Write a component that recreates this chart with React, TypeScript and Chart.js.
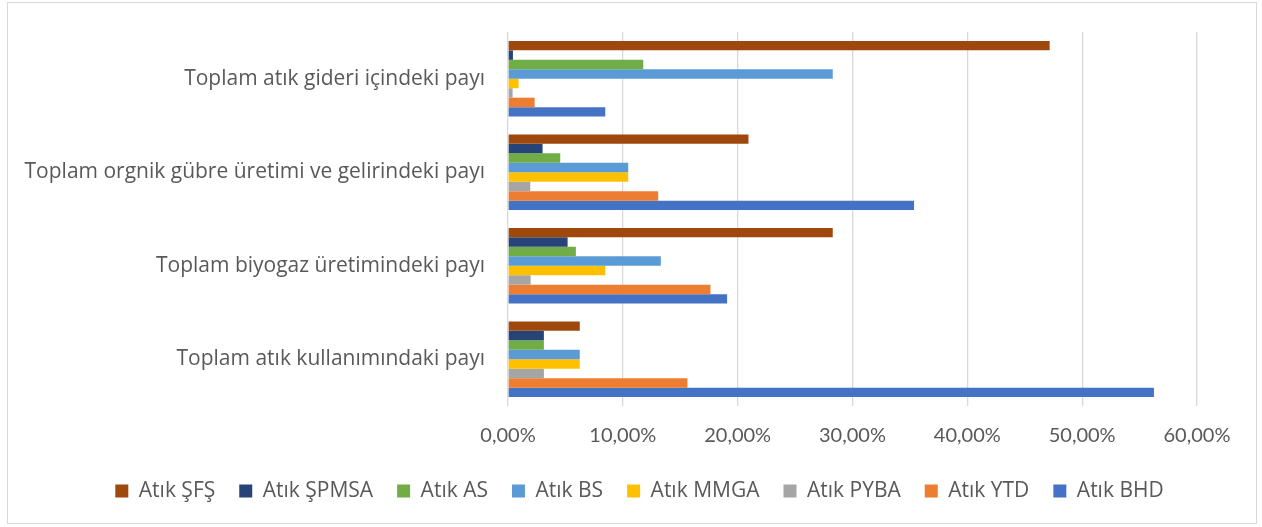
import React, { useEffect, useRef } from "react";
import { Chart, registerables } from "chart.js";

Chart.register(...registerables);

const categories = [
  "Toplam atık gideri içindeki payı",
  "Toplam orgnik gübre üretimi ve gelirindeki payı",
  "Toplam biyogaz üretimindeki payı",
  "Toplam atık kullanımındaki payı",
];

const seriesNames = [
  "Atık ŞFŞ",
  "Atık ŞPMSA",
  "Atık AS",
  "Atık BS",
  "Atık MMGA",
  "Atık PYBA",
  "Atık YTD",
  "Atık BHD",
];

const seriesColors = [
  "#9E480E",
  "#264478",
  "#70AD47",
  "#5B9BD5",
  "#FFC000",
  "#A5A5A5",
  "#ED7D31",
  "#4472C4",
];

const atikSFS = [47.17, 20.94, 28.28, 6.25];
const atikSPMSA = [0.43, 3.01, 5.19, 3.125];
const atikAS = [11.78, 4.55, 5.91, 3.125];
const atikBS = [28.28, 10.47, 13.31, 6.25];
const atikMMGA = [0.92, 10.47, 8.47, 6.25];
const atikPYBA = [0.4, 1.94, 1.97, 3.125];
const atikYTD = [2.32, 13.08, 17.63, 15.625];
const atikBHD = [8.47, 35.36, 19.08, 56.25];

const seriesValues = [atikSFS, atikSPMSA, atikAS, atikBS, atikMMGA, atikPYBA, atikYTD, atikBHD];

const xTicks = [0, 10, 20, 30, 40, 50, 60];

const FONT = "'Open Sans', Lato, sans-serif";
const TICKFONT = "Lato, 'Open Sans', sans-serif";
const TEXT = "#595959";

export default function App() {
  const ref = useRef<HTMLCanvasElement | null>(null);
  useEffect(() => {
    if (!ref.current) return;
    const chart = new Chart(ref.current, {
      type: "bar",
      data: {
        labels: categories,
        datasets: seriesNames.map((name, i) => ({
          label: name,
          data: seriesValues[i],
          backgroundColor: seriesColors[i],
          borderWidth: 0,
          barPercentage: 1,
          categoryPercentage: 0.81,
        })),
      },
      options: {
        indexAxis: "y",
        animation: false,
        responsive: true,
        maintainAspectRatio: false,
        layout: { padding: { top: 32, right: 0, left: 17, bottom: 15.5 } },
        plugins: {
          tooltip: { enabled: false },
          legend: {
            position: "bottom",
            labels: {
              font: { family: FONT, size: 21 },
              color: TEXT,
              boxWidth: 13,
              boxHeight: 13,
              padding: 24,
            },
          },
        },
        scales: {
          x: {
            min: 0,
            max: 60,
            afterBuildTicks: (s: any) => {
              s.ticks = xTicks.map((v) => ({ value: v }));
            },
            afterFit: (s: any) => {
              s.height = 50.5;
            },
            grid: { color: "#d9d9d9", lineWidth: 1.3, drawTicks: false },
            border: { display: false },
            ticks: {
              padding: 18,
              color: TEXT,
              font: { family: TICKFONT, size: 20 },
              callback: (v: any) => Number(v).toFixed(2).replace(".", ",") + "%",
            },
          },
          y: {
            afterFit: (s: any) => {
              s.width = 491;
              s.paddingTop = 0;
              s.paddingBottom = 0;
            },
            grid: { display: false, drawTicks: false },
            border: { display: false },
            ticks: {
              padding: 23,
              color: TEXT,
              font: { family: FONT, size: 21 },
            },
          },
          yRight: {
            type: "category",
            position: "right",
            display: true,
            afterFit: (s: any) => {
              s.width = 65;
              s.paddingTop = 0;
              s.paddingBottom = 0;
            },
            grid: { display: false, drawTicks: false },
            border: { display: false },
            ticks: { display: false },
          },
        },
      },
    });
    return () => chart.destroy();
  }, []);
  return (
    <div
      style={{
        position: "fixed",
        left: 0,
        top: 0,
        width: 1262,
        height: 527,
        background: "#fff",
      }}
    >
      <canvas ref={ref} />
      <div
        style={{
          position: "absolute",
          left: 7,
          top: 2,
          width: 1250,
          height: 522,
          boxSizing: "border-box",
          border: "1.5px solid #d9d9d9",
          pointerEvents: "none",
        }}
      />
    </div>
  );
}
